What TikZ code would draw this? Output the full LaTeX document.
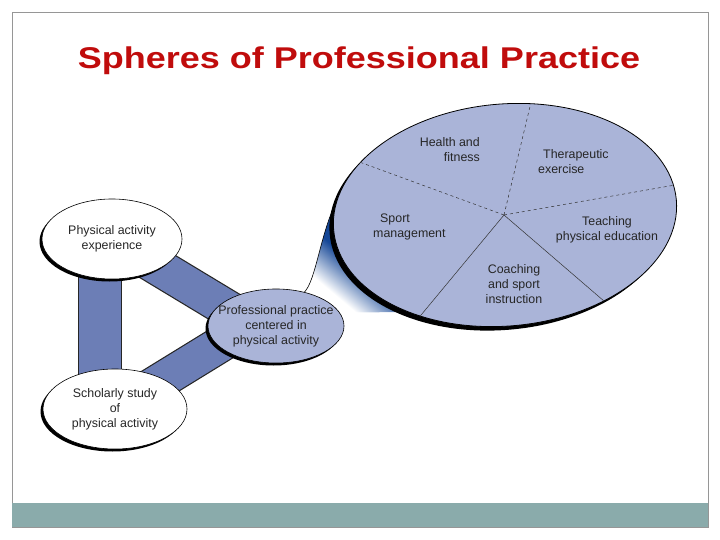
\documentclass[tikz,border=0pt]{standalone}
\usepackage{graphicx}
\usepackage{fontspec}
\setmainfont{Liberation Sans}
\usetikzlibrary{shapes.geometric, shadows, backgrounds, positioning, calc}

\definecolor{titlered}{RGB}{192,12,12}
\definecolor{spherefill}{RGB}{170,180,216}
\definecolor{bandblue}{RGB}{108,126,182}
\definecolor{beamblue}{RGB}{20,70,150}
\definecolor{barteal}{RGB}{138,171,171}
\definecolor{framegray}{RGB}{150,150,150}

\pgfdeclareverticalshading{beamfade}{100bp}{color(0bp)=(white); color(30bp)=(white);
    color(47bp)=(beamblue); color(100bp)=(beamblue)}

\begin{document}
\begin{tikzpicture}[x=1pt, y=-1pt,
    blob/.style={ellipse, draw=black, line width=0.6pt, inner sep=0pt,
        drop shadow={shadow xshift=-#1, shadow yshift=-#1, opacity=1, fill=black}},
    blob/.default=2.5pt,
    lbl/.style={align=center, font=\fontsize{12.4}{15}\selectfont, text=black!85, inner sep=0pt},
    band/.style={draw=black!85, line width=1.2pt, double=bandblue, double distance=#1},
    divider/.style={black!80, line width=0.5pt}]
\useasboundingbox (0,0) rectangle (720,540);

\node[text=titlered, font=\bfseries\fontsize{30}{36}\selectfont] (title) at (359,61)
    {\scalebox{1.2}[1]{Spheres of Professional Practice}};

% the three circles
\node[blob, fill=white, minimum width=140pt, minimum height=80pt] (exp) at (112,239) {};
\node[blob, fill=white, minimum width=144pt, minimum height=80pt] (sch) at (115,409) {};
\node[blob, fill=spherefill, minimum width=136pt, minimum height=74pt] (prof) at (276,326) {};

\node[lbl] (expT) at (exp) {Physical activity\\experience};
\node[lbl] (schT) at (sch) {Scholarly study\\of\\physical activity};
\node[lbl] (profT) at (prof) {Professional practice\\centered in\\physical activity};

% big sphere
\node[blob=4pt, fill=spherefill, line width=0.8pt, minimum width=344pt, minimum height=222pt, rotate=5] (sph) at (505,215) {};
\coordinate (hub) at (504,215);
\draw[divider, dashed] (hub) -- (sph.72);
\draw[divider, dashed] (hub) -- (sph.155);
\draw[divider, dashed] (hub) -- (sph.5);
\draw[divider] (hub) -- (sph.314);
\draw[divider] (hub) -- (sph.225);

\node[lbl, align=right, anchor=east] (health) at (480,150) {Health and\\fitness};
\node[lbl, align=left, anchor=west] (thera) at (538,162) {\hspace*{5pt}Therapeutic\\exercise};
\node[lbl, align=left, anchor=west] (sport) at (373,227) {\hspace*{7pt}Sport\\management};
\node[lbl] (teach) at (607,230) {Teaching\\physical education};
\node[lbl] (coach) at (514,284) {Coaching\\and sport\\instruction};

\begin{scope}[on background layer]
  % slide frame
  \draw[framegray, line width=0.8pt] (12,12) rectangle (708,527);
  \fill[barteal] (12,503) rectangle (708,527);
  % bands between circles
  \draw[band=42pt] ([xshift=-12pt]exp.center) -- ([xshift=-15pt]sch.center);
  \draw[band=36pt] (exp.center) -- ([yshift=-12pt]prof.center);
  \draw[band=35pt] (sch.center) -- ([yshift=16pt]prof.center);
  % beam into the sphere
  \shade[shading=beamfade, shading angle=-40]
    (prof.50) .. controls (316,280) and (320,235) .. (sph.170) -- (sph.220) -- (prof.12) -- cycle;
  \draw[line width=0.6pt] (prof.50) .. controls (316,280) and (320,235) .. (sph.170);
\end{scope}
\end{tikzpicture}
\end{document}
